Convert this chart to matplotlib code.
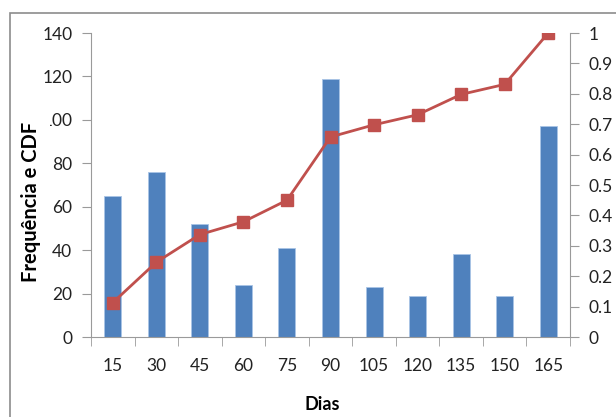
import matplotlib.pyplot as plt
import numpy as np
from matplotlib.patches import Rectangle

# data
dias = [15, 30, 45, 60, 75, 90, 105, 120, 135, 150, 165]
frequencia = [65, 76, 52, 24, 41, 119, 23, 19, 38, 19, 97]
cdf = [0.113, 0.246, 0.337, 0.379, 0.450, 0.658, 0.698, 0.731, 0.798, 0.831, 1.0]

plt.rcParams['font.family'] = ['Lato', 'DejaVu Sans']

W, H = 616, 417
fig = plt.figure(figsize=(W / 100, H / 100), dpi=100)


def px(x0, y0):
    # pixel position (from top left) to figure fraction
    return x0 / W, 1 - y0 / H


# outer frame of the chart area (bottom and right run off the picture)
fig.patches.append(Rectangle((10 / W, -0.5), 1.5, 0.5 + 1 - 13 / H, transform=fig.transFigure,
                             fill=False, edgecolor='#8c8c8c', linewidth=1.2))

ax = fig.add_axes([91 / W, 1 - 337 / H, (570 - 91) / W, (337 - 33) / H])
x = np.arange(len(dias))
ax.bar(x, frequencia, width=0.39, color='#4F81BD', edgecolor='#A9C4E6', linewidth=0.6, zorder=2)
ax.set_xlim(-0.5, len(dias) - 0.5)
ax.set_ylim(0, 140)
ax.set_yticks(range(0, 141, 20))
ax.set_xticks(x)
ax.set_xticklabels([str(d) for d in dias])
ax.set_xticks(np.arange(-0.5, len(dias), 1), minor=True)
ax.tick_params(axis='x', which='major', length=0, labelsize=12.5, pad=15, colors='#222222')
ax.tick_params(axis='x', which='minor', length=6.5, color='#9a9a9a')
ax.tick_params(axis='y', length=6.5, color='#9a9a9a', labelsize=12.5, labelcolor='#222222', pad=7)
for side in ['top', 'right']:
    ax.spines[side].set_visible(False)
for side in ['left', 'bottom']:
    ax.spines[side].set_color('#9a9a9a')

ax2 = ax.twinx()
ax2.plot(x, cdf, color='#C0504D', linewidth=2, marker='s', markersize=8,
         markerfacecolor='#C0504D', markeredgecolor='#C0504D', zorder=3)
ax2.set_ylim(0, 1)
ax2.set_yticks(np.arange(0, 1.01, 0.1))
ax2.set_yticklabels(['0'] + ['%.1f' % v for v in np.arange(0.1, 0.95, 0.1)] + ['1'])
ax2.tick_params(axis='y', length=6.5, color='#9a9a9a', labelsize=12.5, labelcolor='#222222', pad=7)
for side in ['top', 'left', 'bottom']:
    ax2.spines[side].set_visible(False)
ax2.spines['right'].set_color('#9a9a9a')

# white background box of the y title, it hides the first digit of "100"
x0, y0 = px(15, 292)
x1, y1 = px(50, 111)
fig.patches.append(Rectangle((x0, y0), x1 - x0, y1 - y0, transform=fig.transFigure,
                             facecolor='white', edgecolor='none', zorder=2))
fig.text(*px(31, 202), 'Frequência e CDF', rotation=90, ha='center', va='center',
         fontsize=14.5, fontweight='bold', zorder=3)
fig.text(*px(322, 405), 'Dias', ha='center', va='center', fontsize=13, fontweight='bold')

fig.savefig('out.png', dpi=100)
